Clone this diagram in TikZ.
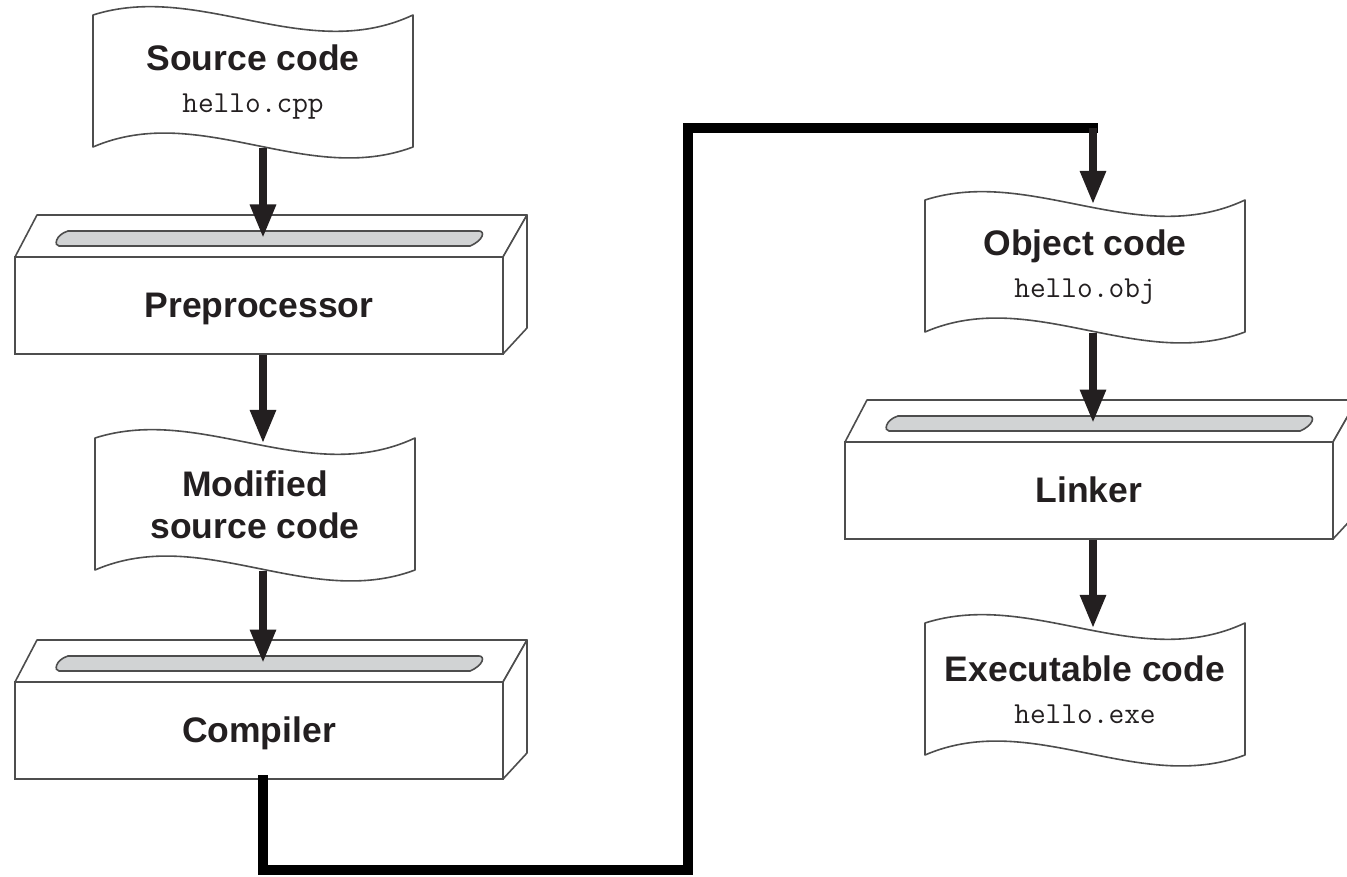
\documentclass[tikz,border=0pt]{standalone}
\usepackage{fontspec}
\setmainfont{Liberation Sans}
\usetikzlibrary{arrows.meta,calc}

\definecolor{ink}{HTML}{231F20}
\definecolor{edgegray}{HTML}{4D4D4D}
\definecolor{slotgray}{HTML}{D1D3D4}

\newcommand\labelfnt{\fontsize{35.5}{42}\selectfont\bfseries}
\newcommand\codefnt{\fontsize{30.5}{42}\selectfont\ttfamily\mdseries}

\tikzset{
  docnode/.style={minimum width=320pt, minimum height=132pt, inner sep=0pt,
    align=center, text=ink, font=\labelfnt},
  boxface/.style={draw=edgegray, line width=1.6pt, fill=white,
    minimum width=488pt, minimum height=97pt, inner sep=0pt,
    text height=24pt, text depth=0pt, text=ink, font=\labelfnt},
  docedge/.style={draw=edgegray, line width=1.6pt, fill=white, line join=round},
  slotshape/.style={draw=edgegray, line width=1.6pt, fill=slotgray},
  flowarrow/.style={draw=ink, line width=8.5pt,
    -{Triangle[length=34pt,width=24pt]}},
  bigline/.style={draw=black, line width=10pt, line join=miter, line cap=rect},
}

% wavy document sheet: name, left x, top y, text
\newcommand\docsheet[4]{%
  \begin{scope}[shift={(#2,#3)}]
    \path[docedge] (0,0) .. controls (106.7,-34) and (213.3,50) .. (320,0)
      -- (320,132) .. controls (213.3,172) and (106.7,86) .. (0,132) -- cycle;
    \node[docnode] (#1) at (160,67) {#4};
  \end{scope}}

% processing unit drawn as a slotted block: name, front-left x, front-top y, text
\newcommand\unitblock[4]{%
  \begin{scope}[shift={(#2,#3)}]
    \path[docedge] (0,0) -- (22,-42) -- (512,-42) -- (488,0) -- cycle;
    \path[docedge] (488,0) -- (512,-42) -- (512,71) -- (488,97) -- cycle;
    \path[slotshape] (53,-26) -- (464,-26)
      .. controls (470,-26) and (469,-17) .. (455,-11) -- (44,-11)
      .. controls (39,-11) and (40,-22) .. (53,-26) -- cycle;
    \node[boxface] (#1) at (244,48.5) {#4};
    \coordinate (#1slot) at (250,-18.5);
  \end{scope}}

\begin{document}
\begin{tikzpicture}[x=1pt, y=-1pt]
  \useasboundingbox (0,0) rectangle (1347,877);
  \clip (0,0) rectangle (1347,877);

  % arrow columns
  \coordinate (colL) at (263,0);
  \coordinate (colR) at (1093,0);

  % left column
  \docsheet{src}{93}{15}{Source code\\{\codefnt hello.cpp}}
  \unitblock{pre}{15}{257}{Preprocessor}
  \docsheet{mod}{95}{438}{Modified\\source code}
  \unitblock{comp}{15}{682}{Compiler}

  % right column
  \docsheet{obj}{925}{200}{Object code\\{\codefnt hello.obj}}
  \unitblock{link}{845}{442}{Linker}
  \docsheet{exe}{925}{623}{Executable code\\{\codefnt hello.exe}}

  % flow arrows
  \draw[flowarrow] (src.south -| colL) -- (preslot -| colL);
  \draw[flowarrow] (pre.south -| colL) -- ($(mod.north -| colL)+(0,5)$);
  \draw[flowarrow] (mod.south -| colL) -- (compslot -| colL);
  \draw[flowarrow] (obj.south -| colR) -- (linkslot -| colR);
  \draw[flowarrow] (link.south -| colR) -- ($(exe.north -| colR)+(0,5)$);

  % long connector from the compiler to the object code
  \coordinate (lowturn) at (688,870);
  \coordinate (highturn) at (688,128);
  \coordinate (dropstart) at (1093,128);
  \draw[bigline] (comp.south -| colL) |- (lowturn) -- (highturn) -- (dropstart);
  \draw[flowarrow] (dropstart) -- ($(obj.north -| colR)+(0,4)$);
\end{tikzpicture}
\end{document}
